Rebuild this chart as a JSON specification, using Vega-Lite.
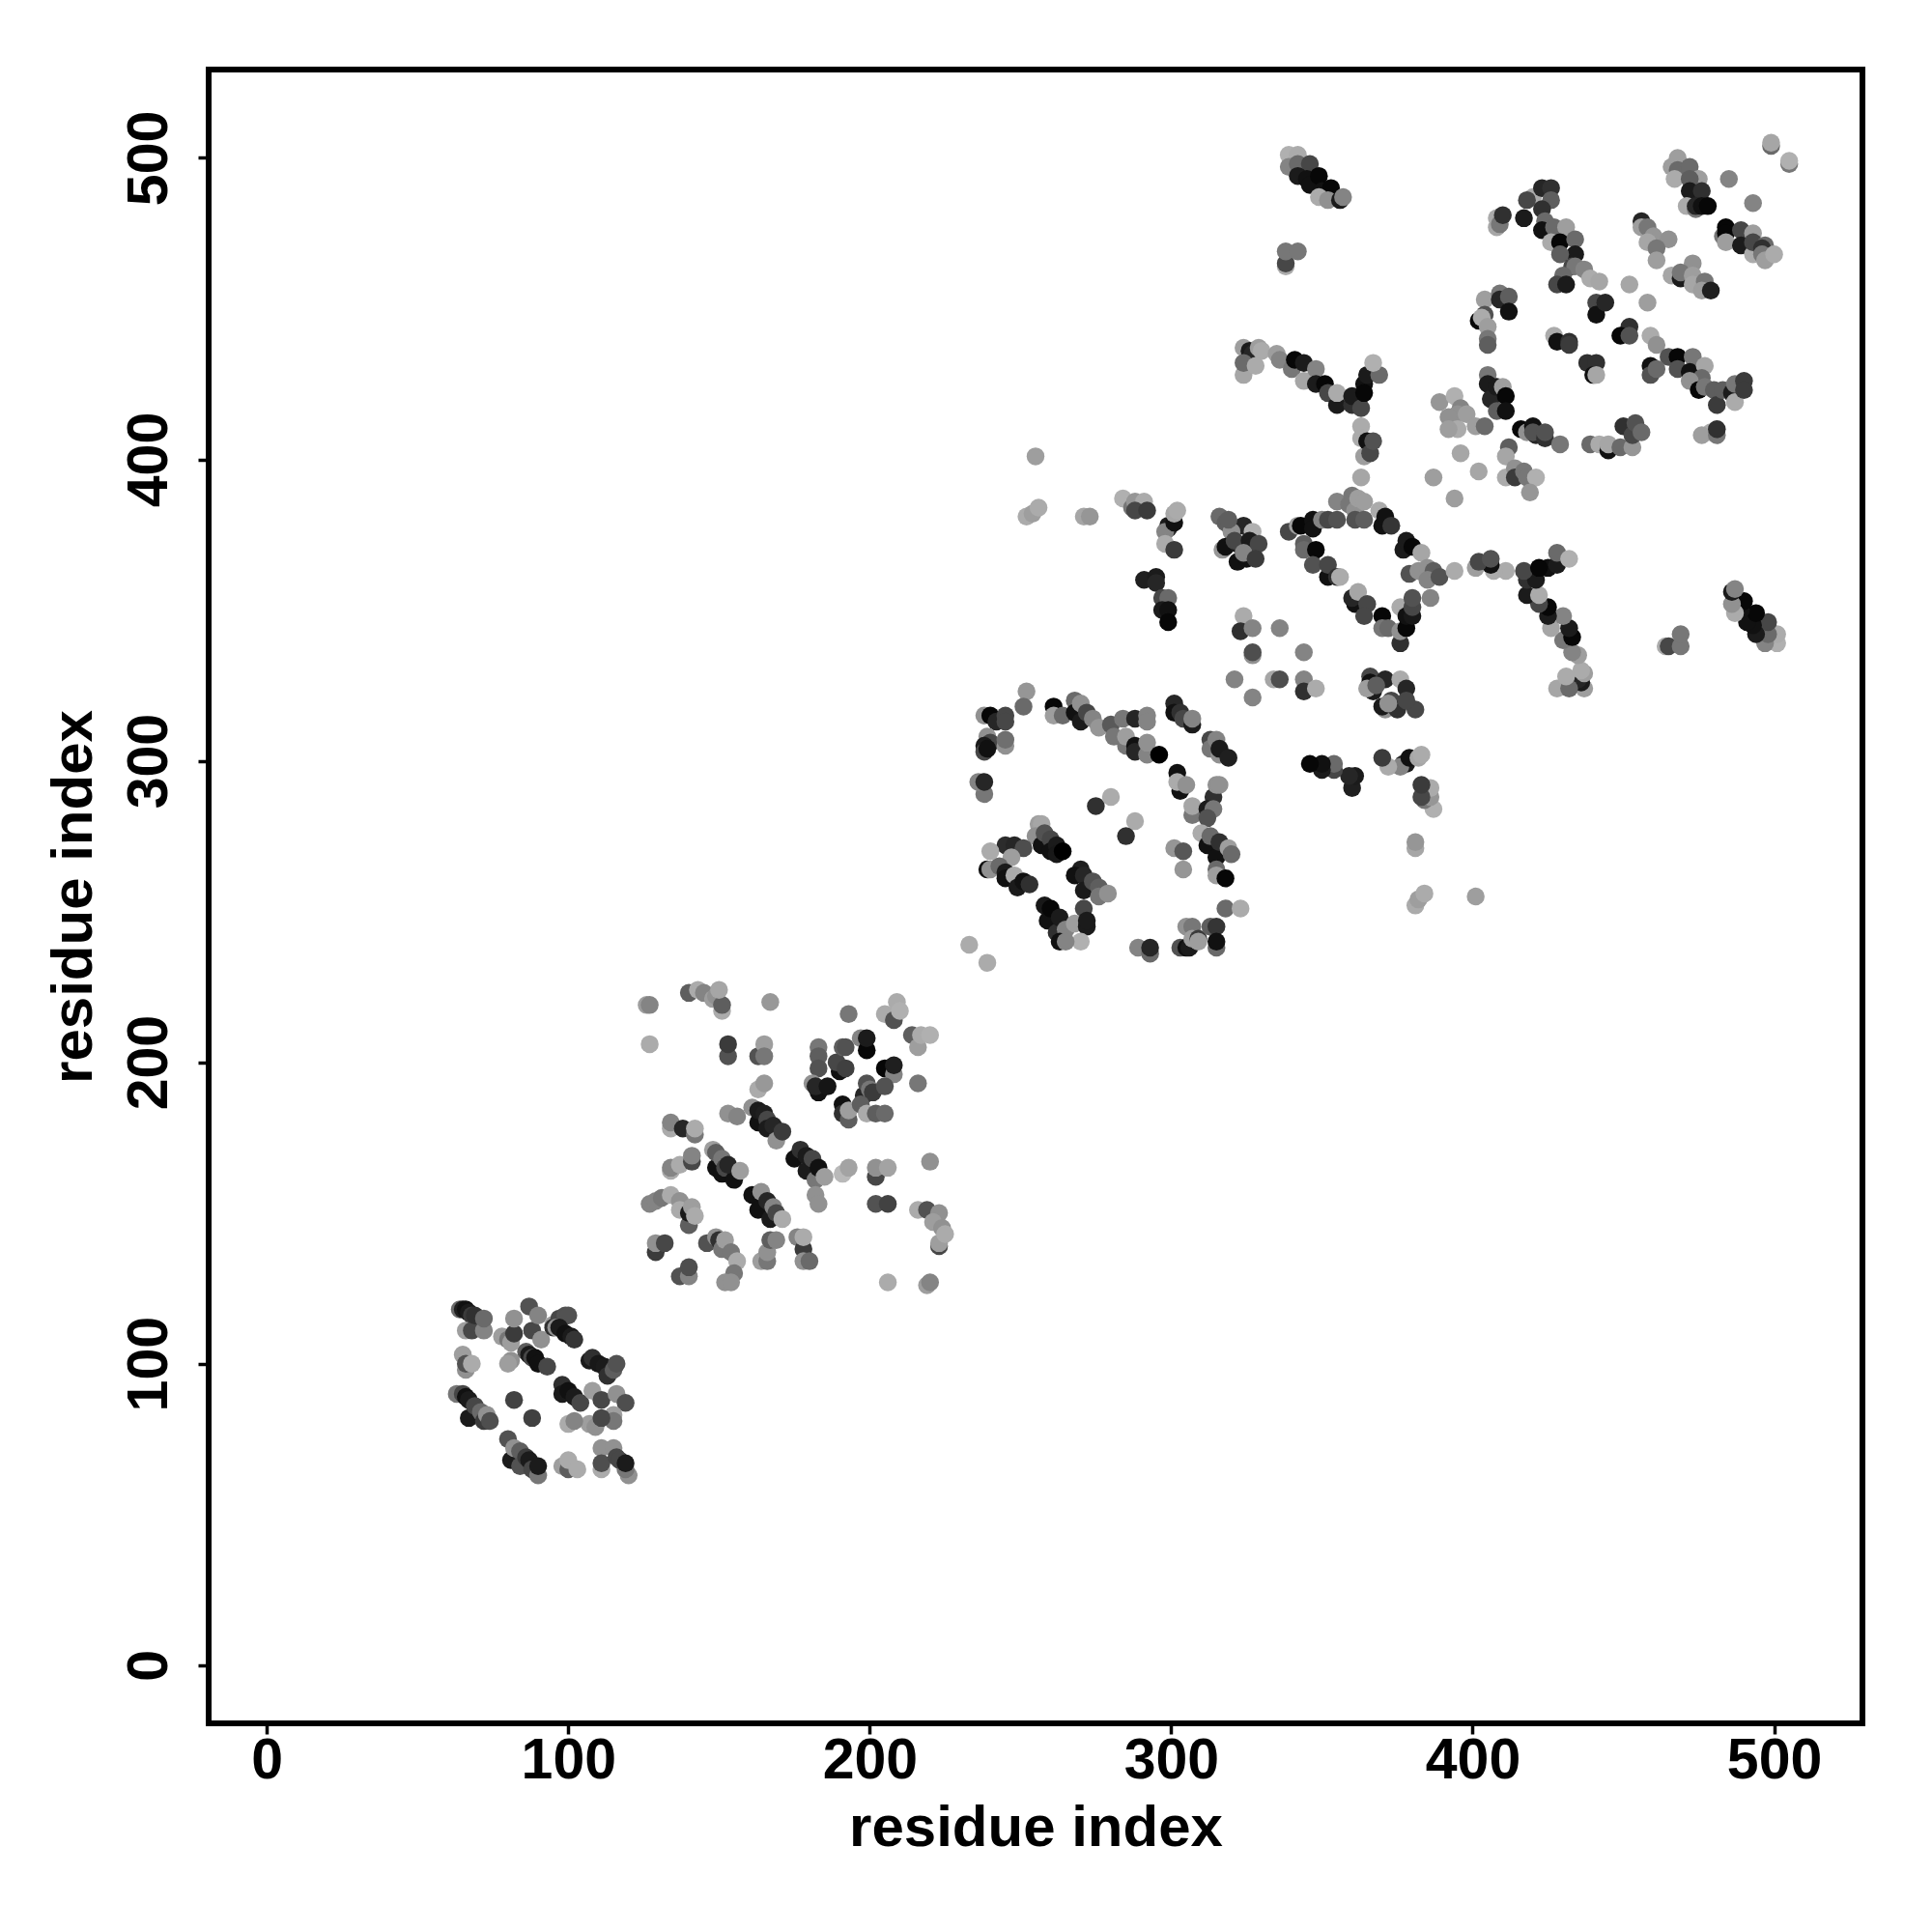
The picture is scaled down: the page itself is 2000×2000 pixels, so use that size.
{"$schema":"https://vega.github.io/schema/vega-lite/v6.json","width":1712,"height":1712,"autosize":{"type":"none"},"padding":{"left":216,"top":72,"right":72,"bottom":216},"background":"white","view":{"stroke":"black","strokeWidth":6,"fill":"white"},"data":{"values":[
{"x":64,"y":118,"w":0.45},{"x":65,"y":118,"w":0.12},{"x":66,"y":118,"w":0.05},{"x":67,"y":117,"w":0.1},{"x":68,"y":116,"w":0.25},{"x":66,"y":111,"w":0.65},{"x":68,"y":111,"w":0.3},{"x":72,"y":111,"w":0.55},{"x":69,"y":116,"w":0.2},{"x":72,"y":115,"w":0.45},
{"x":87,"y":119,"w":0.35},{"x":78,"y":109,"w":0.65},{"x":80,"y":108,"w":0.5},{"x":81,"y":107,"w":0.65},{"x":82,"y":110,"w":0.25},{"x":82,"y":115,"w":0.6},{"x":88,"y":111,"w":0.3},{"x":90,"y":116,"w":0.55},{"x":91,"y":108,"w":0.6},
{"x":81,"y":101,"w":0.6},{"x":80,"y":100,"w":0.65},{"x":86,"y":104,"w":0.4},{"x":87,"y":103,"w":0.1},{"x":88,"y":102,"w":0.3},{"x":89,"y":102,"w":0.05},{"x":90,"y":100,"w":0.05},{"x":93,"y":99,"w":0.3},
{"x":95,"y":113,"w":0.65},{"x":95,"y":112,"w":0.2},{"x":97,"y":115,"w":0.3},{"x":99,"y":116,"w":0.35},{"x":100,"y":116,"w":0.35},{"x":96,"y":112,"w":0.6},{"x":97,"y":112,"w":0.1},{"x":99,"y":110,"w":0.05},{"x":101,"y":109,"w":0.1},{"x":102,"y":108,"w":0.22},
{"x":107,"y":101,"w":0.1},{"x":108,"y":102,"w":0.2},{"x":110,"y":100,"w":0.08},{"x":112,"y":99,"w":0.1},{"x":113,"y":96,"w":0.2},{"x":115,"y":98,"w":0.4},{"x":116,"y":100,"w":0.35},
{"x":65,"y":103,"w":0.65},{"x":66,"y":98,"w":0.6},{"x":66,"y":100,"w":0.35},{"x":68,"y":100,"w":0.7},
{"x":63,"y":90,"w":0.5},{"x":65,"y":90,"w":0.3},{"x":66,"y":89,"w":0.05},{"x":67,"y":88,"w":0.1},{"x":67,"y":82,"w":0.1},{"x":69,"y":86,"w":0.3},{"x":71,"y":84,"w":0.45},{"x":72,"y":81,"w":0.25},{"x":73,"y":83,"w":0.6},{"x":74,"y":81,"w":0.33},
{"x":82,"y":88,"w":0.28},{"x":88,"y":82,"w":0.27},
{"x":98,"y":93,"w":0.2},{"x":98,"y":90,"w":0.1},{"x":100,"y":91,"w":0.05},{"x":102,"y":89,"w":0.1},{"x":104,"y":87,"w":0.3},
{"x":108,"y":91,"w":0.65},{"x":111,"y":88,"w":0.3},{"x":116,"y":90,"w":0.6},{"x":119,"y":87,"w":0.33},{"x":115,"y":83,"w":0.65},{"x":115,"y":81,"w":0.5},{"x":107,"y":80,"w":0.65},{"x":109,"y":79,"w":0.6},{"x":111,"y":82,"w":0.3},{"x":100,"y":80,"w":0.7},{"x":102,"y":81,"w":0.55},
{"x":80,"y":75,"w":0.35},{"x":81,"y":68,"w":0.1},{"x":82,"y":72,"w":0.6},{"x":84,"y":71,"w":0.4},{"x":84,"y":66,"w":0.35},{"x":86,"y":69,"w":0.25},{"x":87,"y":68,"w":0.1},{"x":88,"y":65,"w":0.3},{"x":90,"y":63,"w":0.5},{"x":90,"y":66,"w":0.1},
{"x":98,"y":66,"w":0.65},{"x":100,"y":65,"w":0.4},{"x":100,"y":68,"w":0.7},{"x":103,"y":65,"w":0.7},
{"x":111,"y":72,"w":0.6},{"x":115,"y":72,"w":0.6},{"x":111,"y":65,"w":0.7},{"x":111,"y":67,"w":0.33},{"x":120,"y":63,"w":0.6},{"x":119,"y":65,"w":0.5},{"x":116,"y":69,"w":0.3},{"x":117,"y":68,"w":0.3},{"x":119,"y":67,"w":0.1},
{"x":126,"y":219,"w":0.65},{"x":127,"y":219,"w":0.55},{"x":140,"y":223,"w":0.4},{"x":143,"y":224,"w":0.7},{"x":145,"y":223,"w":0.55},{"x":148,"y":221,"w":0.65},{"x":149,"y":222,"w":0.6},{"x":151,"y":217,"w":0.7},{"x":151,"y":219,"w":0.4},{"x":150,"y":224,"w":0.68},{"x":167,"y":220,"w":0.63},{"x":127,"y":206,"w":0.7},
{"x":153,"y":202,"w":0.35},{"x":153,"y":206,"w":0.25},{"x":163,"y":202,"w":0.35},{"x":165,"y":206,"w":0.65},{"x":165,"y":202,"w":0.5},{"x":163,"y":191,"w":0.7},{"x":165,"y":193,"w":0.63},{"x":153,"y":183,"w":0.6},{"x":156,"y":182,"w":0.55},
{"x":161,"y":185,"w":0.6},{"x":163,"y":180,"w":0.05},{"x":163,"y":184,"w":0.1},{"x":165,"y":183,"w":0.12},{"x":166,"y":181,"w":0.3},{"x":166,"y":178,"w":0.1},{"x":168,"y":179,"w":0.15},{"x":169,"y":174,"w":0.6},{"x":171,"y":177,"w":0.25},
{"x":134,"y":178,"w":0.7},{"x":134,"y":180,"w":0.55},{"x":138,"y":178,"w":0.15},{"x":142,"y":176,"w":0.5},{"x":142,"y":178,"w":0.7},
{"x":134,"y":164,"w":0.7},{"x":134,"y":165,"w":0.55},{"x":137,"y":166,"w":0.7},{"x":141,"y":167,"w":0.3},{"x":141,"y":169,"w":0.55},
{"x":148,"y":171,"w":0.65},{"x":149,"y":165,"w":0.05},{"x":149,"y":170,"w":0.4},{"x":151,"y":168,"w":0.5},{"x":151,"y":163,"w":0.05},{"x":152,"y":165,"w":0.3},{"x":155,"y":161,"w":0.05},{"x":153,"y":166,"w":0.15},{"x":157,"y":164,"w":0.65},
{"x":175,"y":168,"w":0.05},{"x":177,"y":171,"w":0.2},{"x":179,"y":164,"w":0.1},{"x":179,"y":169,"w":0.1},{"x":181,"y":168,"w":0.3},{"x":182,"y":161,"w":0.5},{"x":183,"y":165,"w":0.05},{"x":185,"y":162,"w":0.65},
{"x":191,"y":163,"w":0.75},{"x":193,"y":165,"w":0.67},{"x":202,"y":162,"w":0.3},{"x":202,"y":165,"w":0.6},{"x":206,"y":165,"w":0.67},{"x":220,"y":167,"w":0.6},{"x":202,"y":153,"w":0.35},{"x":206,"y":153,"w":0.28},{"x":182,"y":156,"w":0.6},{"x":183,"y":153,"w":0.6},
{"x":216,"y":151,"w":0.7},{"x":219,"y":151,"w":0.35},{"x":223,"y":150,"w":0.6},{"x":221,"y":147,"w":0.65},{"x":224,"y":145,"w":0.6},{"x":223,"y":139,"w":0.3},{"x":223,"y":140,"w":0.65},{"x":225,"y":143,"w":0.7},
{"x":161,"y":156,"w":0.05},{"x":163,"y":151,"w":0.05},{"x":164,"y":157,"w":0.6},{"x":166,"y":154,"w":0.15},{"x":167,"y":148,"w":0.1},{"x":168,"y":152,"w":0.55},{"x":169,"y":150,"w":0.3},{"x":171,"y":148,"w":0.7},
{"x":127,"y":153,"w":0.55},{"x":129,"y":154,"w":0.55},{"x":131,"y":155,"w":0.5},{"x":134,"y":156,"w":0.7},{"x":137,"y":154,"w":0.6},{"x":137,"y":151,"w":0.7},{"x":140,"y":146,"w":0.4},{"x":140,"y":150,"w":0.1},{"x":141,"y":152,"w":0.65},{"x":142,"y":149,"w":0.7},
{"x":129,"y":137,"w":0.25},{"x":129,"y":140,"w":0.6},{"x":132,"y":140,"w":0.3},{"x":146,"y":140,"w":0.35},{"x":149,"y":142,"w":0.6},{"x":150,"y":141,"w":0.2},{"x":151,"y":138,"w":0.5},{"x":152,"y":141,"w":0.65},{"x":154,"y":137,"w":0.5},{"x":156,"y":134,"w":0.7},{"x":155,"y":130,"w":0.5},{"x":152,"y":127,"w":0.6},{"x":154,"y":127,"w":0.6},
{"x":164,"y":134,"w":0.65},{"x":166,"y":134,"w":0.5},{"x":166,"y":137,"w":0.6},{"x":167,"y":141,"w":0.4},{"x":169,"y":141,"w":0.55},{"x":176,"y":142,"w":0.55},{"x":178,"y":138,"w":0.25},{"x":178,"y":142,"w":0.7},{"x":178,"y":134,"w":0.6},{"x":180,"y":134,"w":0.45},
{"x":137,"y":129,"w":0.35},{"x":140,"y":129,"w":0.55},{"x":140,"y":132,"w":0.33},{"x":206,"y":127,"w":0.7},{"x":219,"y":126,"w":0.65},{"x":220,"y":127,"w":0.55},
{"x":183,"y":205,"w":0.5},{"x":183,"y":202,"w":0.4},{"x":183,"y":198,"w":0.35},{"x":181,"y":193,"w":0.6},{"x":183,"y":190,"w":0.05},{"x":182,"y":192,"w":0.15},{"x":186,"y":192,"w":0.07},
{"x":193,"y":216,"w":0.5},{"x":190,"y":197,"w":0.05},{"x":189,"y":200,"w":0.3},{"x":192,"y":198,"w":0.27},{"x":191,"y":205,"w":0.4},{"x":192,"y":205,"w":0.35},{"x":197,"y":208,"w":0.55},{"x":199,"y":204,"w":0.02},{"x":199,"y":208,"w":0.1},
{"x":205,"y":198,"w":0.02},{"x":208,"y":196,"w":0.55},{"x":208,"y":199,"w":0.12},{"x":205,"y":216,"w":0.7},{"x":208,"y":214,"w":0.35},{"x":209,"y":220,"w":0.7},{"x":210,"y":217,"w":0.72},{"x":216,"y":193,"w":0.5},
{"x":214,"y":209,"w":0.4},{"x":216,"y":205,"w":0.65},{"x":217,"y":209,"w":0.7},{"x":220,"y":209,"w":0.72},
{"x":198,"y":189,"w":0.15},{"x":199,"y":193,"w":0.35},{"x":200,"y":191,"w":0.5},{"x":201,"y":190,"w":0.25},{"x":205,"y":192,"w":0.35},
{"x":191,"y":186,"w":0.05},{"x":191,"y":183,"w":0.2},{"x":193,"y":181,"w":0.4},{"x":193,"y":184,"w":0.65},{"x":197,"y":186,"w":0.4},{"x":199,"y":183,"w":0.7},{"x":202,"y":183,"w":0.4},{"x":205,"y":183,"w":0.45},
{"x":252,"y":323,"w":0.62},{"x":251,"y":318,"w":0.45},{"x":238,"y":315,"w":0.6},{"x":240,"y":315,"w":0.02},{"x":242,"y":313,"w":0.15},{"x":245,"y":315,"w":0.3},{"x":245,"y":313,"w":0.3},{"x":239,"y":308,"w":0.6},{"x":240,"y":306,"w":0.3},{"x":238,"y":305,"w":0.1},{"x":238,"y":303,"w":0.3},{"x":239,"y":304,"w":0.05},{"x":245,"y":305,"w":0.6},{"x":245,"y":307,"w":0.47},
{"x":238,"y":289,"w":0.5},{"x":236,"y":293,"w":0.55},{"x":238,"y":293,"w":0.15},
{"x":261,"y":318,"w":0.02},{"x":261,"y":315,"w":0.65},{"x":264,"y":315,"w":0.45},{"x":268,"y":320,"w":0.45},{"x":268,"y":316,"w":0.05},{"x":270,"y":319,"w":0.6},{"x":270,"y":313,"w":0.1},{"x":272,"y":316,"w":0.3},{"x":274,"y":314,"w":0.55},{"x":276,"y":311,"w":0.62},{"x":280,"y":312,"w":0.38},{"x":281,"y":308,"w":0.5},{"x":284,"y":314,"w":0.5},{"x":285,"y":305,"w":0.5},{"x":285,"y":308,"w":0.65},{"x":288,"y":305,"w":0.05},{"x":288,"y":314,"w":0.15},{"x":288,"y":303,"w":0.15},{"x":292,"y":302,"w":0.55},{"x":292,"y":306,"w":0.6},{"x":292,"y":315,"w":0.55},{"x":292,"y":313,"w":0.55},{"x":296,"y":302,"w":0},
{"x":301,"y":319,"w":0.15},{"x":301,"y":316,"w":0.05},{"x":303,"y":316,"w":0.2},{"x":304,"y":314,"w":0.3},{"x":307,"y":312,"w":0.1},{"x":307,"y":314,"w":0.55},
{"x":313,"y":307,"w":0.3},{"x":313,"y":304,"w":0.5},{"x":315,"y":307,"w":0.55},{"x":316,"y":302,"w":0.6},{"x":316,"y":304,"w":0.1},{"x":319,"y":301,"w":0.12},
{"x":302,"y":296,"w":0.05},{"x":303,"y":290,"w":0.05},{"x":302,"y":293,"w":0.7},{"x":305,"y":292,"w":0.6},{"x":314,"y":288,"w":0.2},{"x":315,"y":292,"w":0.6},{"x":316,"y":292,"w":0.6},{"x":307,"y":282,"w":0.5},{"x":307,"y":285,"w":0.68},{"x":312,"y":284,"w":0.1},{"x":314,"y":284,"w":0.5},{"x":312,"y":281,"w":0.35},
{"x":310,"y":276,"w":0.7},{"x":312,"y":272,"w":0.05},{"x":313,"y":275,"w":0.45},{"x":315,"y":268,"w":0.05},{"x":316,"y":273,"w":0.2},{"x":319,"y":271,"w":0.65},{"x":320,"y":269,"w":0.45},
{"x":315,"y":264,"w":0.45},{"x":315,"y":262,"w":0.65},{"x":318,"y":261,"w":0.02},{"x":301,"y":271,"w":0.62},{"x":304,"y":270,"w":0.37},{"x":304,"y":264,"w":0.62},
{"x":275,"y":285,"w":0.2},{"x":280,"y":288,"w":0.7},{"x":288,"y":280,"w":0.7},{"x":285,"y":275,"w":0.2},{"x":318,"y":251,"w":0.45},{"x":323,"y":251,"w":0.7},
{"x":256,"y":279,"w":0.65},{"x":257,"y":279,"w":0.68},{"x":255,"y":275,"w":0.6},{"x":257,"y":272,"w":0.05},{"x":258,"y":276,"w":0.35},{"x":260,"y":274,"w":0.3},{"x":260,"y":270,"w":0.05},{"x":262,"y":272,"w":0.1},{"x":262,"y":269,"w":0.08},{"x":264,"y":270,"w":0},
{"x":245,"y":272,"w":0.18},{"x":248,"y":272,"w":0.15},{"x":251,"y":271,"w":0.33},{"x":240,"y":270,"w":0.7},{"x":247,"y":268,"w":0.65},{"x":239,"y":264,"w":0.05},{"x":240,"y":264,"w":0.6},{"x":243,"y":265,"w":0.45},{"x":245,"y":263,"w":0.1},{"x":245,"y":261,"w":0.05},{"x":248,"y":262,"w":0.7},{"x":249,"y":258,"w":0.1},{"x":251,"y":260,"w":0.05},{"x":253,"y":259,"w":0.2},
{"x":270,"y":264,"w":0.12},{"x":268,"y":262,"w":0.05},{"x":271,"y":262,"w":0.15},{"x":271,"y":257,"w":0.1},{"x":274,"y":260,"w":0.35},{"x":276,"y":258,"w":0.4},{"x":276,"y":255,"w":0.5},{"x":279,"y":256,"w":0.6},
{"x":258,"y":252,"w":0.08},{"x":259,"y":247,"w":0.05},{"x":260,"y":251,"w":0.02},{"x":262,"y":243,"w":0.2},{"x":263,"y":248,"w":0.1},{"x":265,"y":244,"w":0.55},{"x":271,"y":251,"w":0.3},{"x":268,"y":246,"w":0.65},{"x":272,"y":245,"w":0.1},{"x":272,"y":247,"w":0.1},{"x":270,"y":240,"w":0.72},{"x":263,"y":240,"w":0.05},{"x":265,"y":240,"w":0.55},
{"x":233,"y":239,"w":0.7},{"x":239,"y":233,"w":0.7},{"x":289,"y":238,"w":0.55},{"x":293,"y":236,"w":0.45},{"x":293,"y":238,"w":0.15},
{"x":303,"y":238,"w":0.35},{"x":305,"y":245,"w":0.6},{"x":305,"y":238,"w":0.05},{"x":307,"y":245,"w":0.5},{"x":306,"y":238,"w":0.1},{"x":307,"y":241,"w":0.65},{"x":309,"y":241,"w":0.25},{"x":309,"y":240,"w":0.65},{"x":313,"y":245,"w":0.4},{"x":315,"y":245,"w":0.22},{"x":315,"y":238,"w":0.45},{"x":315,"y":240,"w":0.05},
{"x":324,"y":348,"w":0.7},{"x":323,"y":343,"w":0.2},{"x":327,"y":344,"w":0.55},{"x":336,"y":344,"w":0.55},{"x":327,"y":335,"w":0.6},{"x":327,"y":336,"w":0.33},{"x":344,"y":336,"w":0.55},{"x":321,"y":327,"w":0.55},{"x":334,"y":327,"w":0.68},{"x":336,"y":327,"w":0.33},{"x":344,"y":327,"w":0.55},{"x":344,"y":323,"w":0.2},{"x":348,"y":324,"w":0.7},{"x":327,"y":321,"w":0.55},
{"x":366,"y":328,"w":0.3},{"x":371,"y":327,"w":0.15},{"x":376,"y":327,"w":0.7},{"x":378,"y":324,"w":0.15},{"x":366,"y":326,"w":0.05},{"x":367,"y":323,"w":0.1},{"x":371,"y":317,"w":0.6},{"x":373,"y":320,"w":0.3},{"x":365,"y":324,"w":0.65},{"x":370,"y":318,"w":0.1},{"x":375,"y":317,"w":0.2},{"x":381,"y":317,"w":0.3},{"x":378,"y":320,"w":0.3},{"x":372,"y":319,"w":0.6},{"x":368,"y":325,"w":0.4},
{"x":316,"y":381,"w":0.45},{"x":318,"y":379,"w":0.4},{"x":324,"y":378,"w":0.15},{"x":320,"y":376,"w":0.6},{"x":319,"y":380,"w":0.4},{"x":327,"y":376,"w":0.72},{"x":317,"y":370,"w":0.62},{"x":318,"y":371,"w":0.05},{"x":322,"y":372,"w":0.1},{"x":321,"y":373,"w":0.3},{"x":326,"y":373,"w":0.1},{"x":327,"y":371,"w":0.1},{"x":329,"y":372,"w":0.3},{"x":322,"y":366,"w":0.05},{"x":325,"y":367,"w":0.05},{"x":324,"y":369,"w":0.55},{"x":328,"y":367,"w":0.25},
{"x":339,"y":376,"w":0.3},{"x":342,"y":378,"w":0.65},{"x":343,"y":378,"w":0.02},{"x":344,"y":372,"w":0.4},{"x":344,"y":370,"w":0.45},{"x":347,"y":380,"w":0.05},{"x":347,"y":377,"w":0.05},{"x":350,"y":380,"w":0.55},{"x":352,"y":380,"w":0.3},{"x":355,"y":380,"w":0.35},{"x":348,"y":370,"w":0.02},{"x":347,"y":365,"w":0.35},{"x":352,"y":361,"w":0.05},{"x":352,"y":365,"w":0.3},{"x":355,"y":361,"w":0.2},{"x":356,"y":361,"w":0.7},
{"x":355,"y":386,"w":0.55},{"x":363,"y":394,"w":0.68},{"x":360,"y":388,"w":0.5},{"x":359,"y":385,"w":0.5},{"x":361,"y":383,"w":0.6},{"x":362,"y":387,"w":0.65},{"x":361,"y":380,"w":0.35},{"x":364,"y":380,"w":0.4},{"x":364,"y":386,"w":0.65},{"x":369,"y":383,"w":0.7},{"x":370,"y":378,"w":0.05},{"x":371,"y":381,"w":0.05},{"x":373,"y":378,"w":0.22},
{"x":377,"y":370,"w":0.1},{"x":378,"y":373,"w":0.1},{"x":380,"y":371,"w":0.02},{"x":383,"y":369,"w":0.68},{"x":379,"y":362,"w":0.35},{"x":382,"y":363,"w":0.6},{"x":385,"y":364,"w":0.6},{"x":387,"y":363,"w":0.4},{"x":385,"y":360,"w":0.55},{"x":389,"y":361,"w":0.35},{"x":386,"y":354,"w":0.55},{"x":394,"y":363,"w":0.7},
{"x":361,"y":352,"w":0.05},{"x":360,"y":354,"w":0.15},{"x":362,"y":356,"w":0.68},{"x":365,"y":352,"w":0.3},{"x":364,"y":348,"w":0.3},{"x":370,"y":348,"w":0.02},{"x":370,"y":344,"w":0.5},{"x":372,"y":344,"w":0.45},{"x":376,"y":339,"w":0.2},{"x":376,"y":343,"w":0.6},{"x":376,"y":351,"w":0.7},{"x":378,"y":344,"w":0.02},{"x":378,"y":348,"w":0.05},{"x":380,"y":348,"w":0.08},{"x":380,"y":351,"w":0.3},{"x":380,"y":354,"w":0.35},
{"x":396,"y":402,"w":0.68},{"x":402,"y":396,"w":0.68},{"x":387,"y":394,"w":0.65},{"x":394,"y":387,"w":0.65},
{"x":339,"y":501,"w":0.72},{"x":342,"y":501,"w":0.7},{"x":339,"y":497,"w":0.55},{"x":342,"y":498,"w":0.45},{"x":346,"y":498,"w":0.3},{"x":342,"y":494,"w":0.1},{"x":345,"y":493,"w":0.05},{"x":346,"y":491,"w":0.05},{"x":349,"y":494,"w":0.02},{"x":350,"y":489,"w":0.05},{"x":353,"y":490,"w":0.02},{"x":349,"y":487,"w":0.7},{"x":352,"y":486,"w":0.6},{"x":356,"y":486,"w":0.1},{"x":357,"y":487,"w":0.55},
{"x":338,"y":464,"w":0.7},{"x":338,"y":465,"w":0.3},{"x":338,"y":469,"w":0.5},{"x":342,"y":469,"w":0.5},
{"x":255,"y":401,"w":0.65},{"x":252,"y":381,"w":0.7},{"x":254,"y":382,"w":0.65},{"x":256,"y":384,"w":0.7},{"x":271,"y":381,"w":0.68},{"x":273,"y":381,"w":0.62},{"x":284,"y":387,"w":0.72},{"x":287,"y":384,"w":0.5},{"x":288,"y":386,"w":0.62},{"x":291,"y":386,"w":0.7},{"x":288,"y":383,"w":0.3},{"x":292,"y":383,"w":0.25},
{"x":299,"y":377,"w":0.15},{"x":299,"y":378,"w":0.1},{"x":298,"y":376,"w":0.55},{"x":301,"y":379,"w":0.05},{"x":301,"y":382,"w":0.68},{"x":302,"y":383,"w":0.7},{"x":298,"y":372,"w":0.7},{"x":301,"y":370,"w":0.25},
{"x":291,"y":360,"w":0.12},{"x":295,"y":361,"w":0.1},{"x":295,"y":359,"w":0.15},{"x":297,"y":354,"w":0.3},{"x":299,"y":354,"w":0.45},{"x":297,"y":350,"w":0.1},{"x":299,"y":350,"w":0.05},{"x":299,"y":346,"w":0.02},
{"x":324,"y":437,"w":0.65},{"x":326,"y":436,"w":0.1},{"x":327,"y":435,"w":0.15},{"x":329,"y":437,"w":0.65},{"x":330,"y":436,"w":0.7},{"x":324,"y":428,"w":0.68},{"x":324,"y":432,"w":0.45},{"x":328,"y":431,"w":0.7},{"x":335,"y":435,"w":0.65},{"x":336,"y":433,"w":0.55},{"x":340,"y":430,"w":0.5},{"x":341,"y":433,"w":0.02},{"x":344,"y":432,"w":0.1},{"x":344,"y":426,"w":0.68},{"x":348,"y":430,"w":0.55},{"x":348,"y":425,"w":0.1},{"x":351,"y":425,"w":0.02},{"x":352,"y":422,"w":0.3},{"x":355,"y":418,"w":0.1},{"x":355,"y":422,"w":0.7},{"x":360,"y":418,"w":0.2},{"x":360,"y":421,"w":0.1},{"x":363,"y":417,"w":0.3},{"x":364,"y":425,"w":0.05},{"x":364,"y":422,"w":0.02},{"x":365,"y":428,"w":0.1},{"x":369,"y":428,"w":0.45},{"x":367,"y":432,"w":0.72},
{"x":363,"y":411,"w":0.7},{"x":363,"y":407,"w":0.7},{"x":364,"y":401,"w":0.65},{"x":365,"y":406,"w":0.05},{"x":366,"y":402,"w":0.3},{"x":367,"y":406,"w":0.35},
{"x":401,"y":255,"w":0.65},{"x":381,"y":252,"w":0.7},{"x":382,"y":254,"w":0.65},{"x":384,"y":256,"w":0.7},{"x":381,"y":271,"w":0.68},{"x":381,"y":273,"w":0.62},{"x":387,"y":284,"w":0.72},{"x":384,"y":287,"w":0.5},{"x":386,"y":288,"w":0.62},{"x":386,"y":291,"w":0.7},{"x":383,"y":288,"w":0.3},{"x":383,"y":292,"w":0.25},
{"x":377,"y":299,"w":0.15},{"x":378,"y":299,"w":0.1},{"x":376,"y":298,"w":0.55},{"x":379,"y":301,"w":0.05},{"x":382,"y":301,"w":0.68},{"x":383,"y":302,"w":0.7},{"x":372,"y":298,"w":0.7},{"x":370,"y":301,"w":0.25},
{"x":360,"y":291,"w":0.12},{"x":361,"y":295,"w":0.1},{"x":359,"y":295,"w":0.15},{"x":354,"y":297,"w":0.3},{"x":354,"y":299,"w":0.45},{"x":350,"y":297,"w":0.1},{"x":350,"y":299,"w":0.05},{"x":346,"y":299,"w":0.02},
{"x":437,"y":324,"w":0.65},{"x":436,"y":326,"w":0.1},{"x":435,"y":327,"w":0.15},{"x":437,"y":329,"w":0.65},{"x":436,"y":330,"w":0.7},{"x":428,"y":324,"w":0.68},{"x":432,"y":324,"w":0.45},{"x":431,"y":328,"w":0.7},{"x":435,"y":335,"w":0.65},{"x":433,"y":336,"w":0.55},{"x":430,"y":340,"w":0.5},{"x":433,"y":341,"w":0.02},{"x":432,"y":344,"w":0.1},{"x":426,"y":344,"w":0.68},{"x":430,"y":348,"w":0.55},{"x":425,"y":348,"w":0.1},{"x":425,"y":351,"w":0.02},{"x":422,"y":352,"w":0.3},{"x":418,"y":355,"w":0.1},{"x":422,"y":355,"w":0.7},{"x":418,"y":360,"w":0.2},{"x":421,"y":360,"w":0.1},{"x":417,"y":363,"w":0.3},{"x":425,"y":364,"w":0.05},{"x":422,"y":364,"w":0.02},{"x":428,"y":365,"w":0.1},{"x":428,"y":369,"w":0.45},{"x":432,"y":367,"w":0.72},
{"x":411,"y":363,"w":0.7},{"x":407,"y":363,"w":0.7},{"x":401,"y":364,"w":0.65},{"x":406,"y":365,"w":0.05},{"x":402,"y":366,"w":0.3},{"x":406,"y":367,"w":0.35},
{"x":501,"y":339,"w":0.72},{"x":501,"y":342,"w":0.7},{"x":497,"y":339,"w":0.55},{"x":498,"y":342,"w":0.45},{"x":498,"y":346,"w":0.3},{"x":494,"y":342,"w":0.1},{"x":493,"y":345,"w":0.05},{"x":491,"y":346,"w":0.05},{"x":494,"y":349,"w":0.02},{"x":489,"y":350,"w":0.05},{"x":490,"y":353,"w":0.02},{"x":487,"y":349,"w":0.7},{"x":486,"y":352,"w":0.6},{"x":486,"y":356,"w":0.1},{"x":487,"y":357,"w":0.55},
{"x":464,"y":338,"w":0.7},{"x":465,"y":338,"w":0.3},{"x":469,"y":338,"w":0.5},{"x":469,"y":342,"w":0.5},
{"x":499,"y":504,"w":0.45},{"x":499,"y":505,"w":0.68},{"x":505,"y":498,"w":0.5},{"x":505,"y":499,"w":0.72},
{"x":466,"y":497,"w":0.65},{"x":468,"y":500,"w":0.65},{"x":468,"y":496,"w":0.45},{"x":472,"y":497,"w":0.45},{"x":467,"y":493,"w":0.7},{"x":475,"y":493,"w":0.65},{"x":472,"y":493,"w":0.4},{"x":472,"y":489,"w":0.1},{"x":476,"y":489,"w":0.2},{"x":471,"y":484,"w":0.7},{"x":474,"y":483,"w":0.5},{"x":474,"y":484,"w":0.15},{"x":476,"y":484,"w":0.05},{"x":478,"y":484,"w":0.02},{"x":485,"y":493,"w":0.55},{"x":493,"y":485,"w":0.55},
{"x":483,"y":474,"w":0.5},{"x":484,"y":477,"w":0.02},{"x":484,"y":475,"w":0.02},{"x":484,"y":472,"w":0.65},{"x":489,"y":476,"w":0.3},{"x":489,"y":471,"w":0.1},{"x":493,"y":475,"w":0.65},{"x":493,"y":468,"w":0.7},{"x":493,"y":472,"w":0.3},{"x":497,"y":471,"w":0.45},{"x":496,"y":470,"w":0.2},{"x":496,"y":468,"w":0.5},{"x":497,"y":466,"w":0.65},{"x":500,"y":468,"w":0.7},
{"x":456,"y":479,"w":0.15},{"x":456,"y":477,"w":0.65},{"x":458,"y":477,"w":0.5},{"x":460,"y":474,"w":0.62},{"x":458,"y":472,"w":0.68},{"x":465,"y":473,"w":0.6},{"x":461,"y":470,"w":0.5},{"x":461,"y":466,"w":0.65},
{"x":473,"y":465,"w":0.6},{"x":466,"y":461,"w":0.68},{"x":469,"y":460,"w":0.1},{"x":469,"y":462,"w":0.5},{"x":473,"y":461,"w":0.65},{"x":473,"y":458,"w":0.68},{"x":477,"y":459,"w":0.5},{"x":476,"y":456,"w":0.65},{"x":479,"y":456,"w":0.12},
{"x":420,"y":487,"w":0.7},{"x":418,"y":486,"w":0.3},{"x":423,"y":490,"w":0.15},{"x":426,"y":490,"w":0.2},{"x":426,"y":486,"w":0.4},{"x":423,"y":483,"w":0.2},{"x":417,"y":480,"w":0.1},{"x":424,"y":479,"w":0.45},{"x":423,"y":476,"w":0.05},{"x":427,"y":477,"w":0.45},{"x":431,"y":477,"w":0.65},{"x":426,"y":472,"w":0.7},{"x":429,"y":472,"w":0.02},{"x":434,"y":473,"w":0.45},{"x":434,"y":468,"w":0.1},{"x":429,"y":468,"w":0.4},{"x":433,"y":464,"w":0.3},{"x":434,"y":464,"w":0.5},{"x":437,"y":463,"w":0.55},{"x":430,"y":461,"w":0.45},{"x":428,"y":458,"w":0.3},{"x":431,"y":458,"w":0.1},{"x":439,"y":460,"w":0.7},{"x":442,"y":459,"w":0.68},{"x":441,"y":452,"w":0.3},{"x":441,"y":448,"w":0.05},{"x":444,"y":452,"w":0.15},
{"x":408,"y":480,"w":0.7},{"x":408,"y":477,"w":0.68},{"x":409,"y":478,"w":0.5},{"x":410,"y":481,"w":0.2},{"x":452,"y":458,"w":0.68},{"x":458,"y":452,"w":0.65},
{"x":404,"y":453,"w":0.65},{"x":404,"y":448,"w":0.35},{"x":402,"y":446,"w":0.02},{"x":403,"y":447,"w":0.7},{"x":405,"y":444,"w":0.65},{"x":405,"y":440,"w":0.5},{"x":405,"y":438,"w":0.4},{"x":409,"y":455,"w":0.5},{"x":409,"y":453,"w":0.15},{"x":412,"y":454,"w":0.4},{"x":412,"y":449,"w":0.05},
{"x":452,"y":444,"w":0.2},{"x":449,"y":441,"w":0.02},{"x":452,"y":441,"w":0.35},{"x":459,"y":441,"w":0.7},{"x":461,"y":438,"w":0.6},{"x":465,"y":434,"w":0.35},{"x":468,"y":434,"w":0.02},{"x":473,"y":434,"w":0.5},{"x":459,"y":431,"w":0.05},{"x":459,"y":428,"w":0.35},{"x":461,"y":430,"w":0.45},{"x":468,"y":430,"w":0.35},{"x":472,"y":429,"w":0.05},{"x":477,"y":431,"w":0.68},{"x":476,"y":427,"w":0.45},{"x":472,"y":426,"w":0.6},{"x":475,"y":423,"w":0.02},{"x":477,"y":424,"w":0.5},{"x":480,"y":423,"w":0.4},{"x":481,"y":418,"w":0.25},{"x":483,"y":423,"w":0.4},{"x":486,"y":422,"w":0.1},{"x":487,"y":419,"w":0.7},{"x":487,"y":425,"w":0.5},{"x":490,"y":426,"w":0.25},{"x":490,"y":423,"w":0.25},
{"x":479,"y":409,"w":0.7},{"x":476,"y":408,"w":0.65},{"x":481,"y":408,"w":0.5},{"x":481,"y":410,"w":0.2},
{"x":427,"y":441,"w":0.7},{"x":428,"y":439,"w":0.05},{"x":432,"y":439,"w":0.2},{"x":432,"y":438,"w":0.25},{"x":438,"y":432,"w":0.2},{"x":441,"y":432,"w":0.2},{"x":440,"y":428,"w":0.05},{"x":441,"y":428,"w":0.68},
{"x":405,"y":428,"w":0.5},{"x":405,"y":425,"w":0.1},{"x":406,"y":420,"w":0.15},{"x":408,"y":424,"w":0.1},{"x":408,"y":416,"w":0.4},{"x":410,"y":424,"w":0.65},{"x":411,"y":421,"w":0.02},{"x":411,"y":416,"w":0.05},
{"x":389,"y":419,"w":0.62},{"x":394,"y":421,"w":0.72},{"x":396,"y":417,"w":0.55},{"x":395,"y":415,"w":0.6},{"x":398,"y":415,"w":0.65},{"x":392,"y":414,"w":0.6},{"x":395,"y":410,"w":0.7},{"x":392,"y":410,"w":0.65},{"x":401,"y":411,"w":0.65},{"x":404,"y":411,"w":0.45},
{"x":416,"y":410,"w":0.02},{"x":418,"y":409,"w":0.6},{"x":420,"y":411,"w":0.05},{"x":421,"y":408,"w":0.15},{"x":420,"y":409,"w":0.35},{"x":424,"y":407,"w":0.2},{"x":424,"y":409,"w":0.35},{"x":429,"y":405,"w":0.5},
{"x":439,"y":405,"w":0.45},{"x":442,"y":405,"w":0.7},{"x":445,"y":403,"w":0.05},{"x":445,"y":405,"w":0.68},{"x":449,"y":404,"w":0.45},{"x":453,"y":404,"w":0.62},{"x":450,"y":411,"w":0.2},{"x":453,"y":408,"w":0.3},{"x":454,"y":412,"w":0.35},{"x":456,"y":409,"w":0.45},
{"x":412,"y":404,"w":0.4},{"x":411,"y":401,"w":0.68},{"x":411,"y":394,"w":0.7},{"x":414,"y":397,"w":0.6},{"x":414,"y":394,"w":0.25},{"x":417,"y":396,"w":0.5},{"x":418,"y":394,"w":0.5},{"x":421,"y":394,"w":0.72},{"x":419,"y":389,"w":0.62}
]},"mark":{"type":"circle","size":342,"opacity":1,"stroke":null},"encoding":{"x":{"field":"x","type":"quantitative","scale":{"domain":[-19.3,529.3],"nice":false,"zero":false},"axis":{"values":[0,100,200,300,400,500],"grid":false,"domain":false,"title":"residue index","tickSize":11,"tickWidth":3.5,"tickColor":"black","labelFont":"Liberation Sans","labelFontWeight":"bold","labelFontSize":59,"labelColor":"black","labelPadding":-2,"labelFlush":false,"titleFont":"Liberation Sans","titleFontWeight":"bold","titleFontSize":60,"titleColor":"black","titlePadding":11}},"y":{"field":"y","type":"quantitative","scale":{"domain":[-19.3,529.3],"nice":false,"zero":false},"axis":{"values":[0,100,200,300,400,500],"grid":false,"domain":false,"title":"residue index","tickSize":11,"tickWidth":3.5,"tickColor":"black","labelFont":"Liberation Sans","labelFontWeight":"bold","labelFontSize":59,"labelColor":"black","labelAngle":-90,"labelAlign":"center","labelBaseline":"bottom","labelPadding":21,"titleFont":"Liberation Sans","titleFontWeight":"bold","titleFontSize":60,"titleColor":"black","titlePadding":18}},"color":{"field":"w","type":"quantitative","legend":null,"scale":{"domain":[0,1],"range":["#000000","#ffffff"]}}}}
